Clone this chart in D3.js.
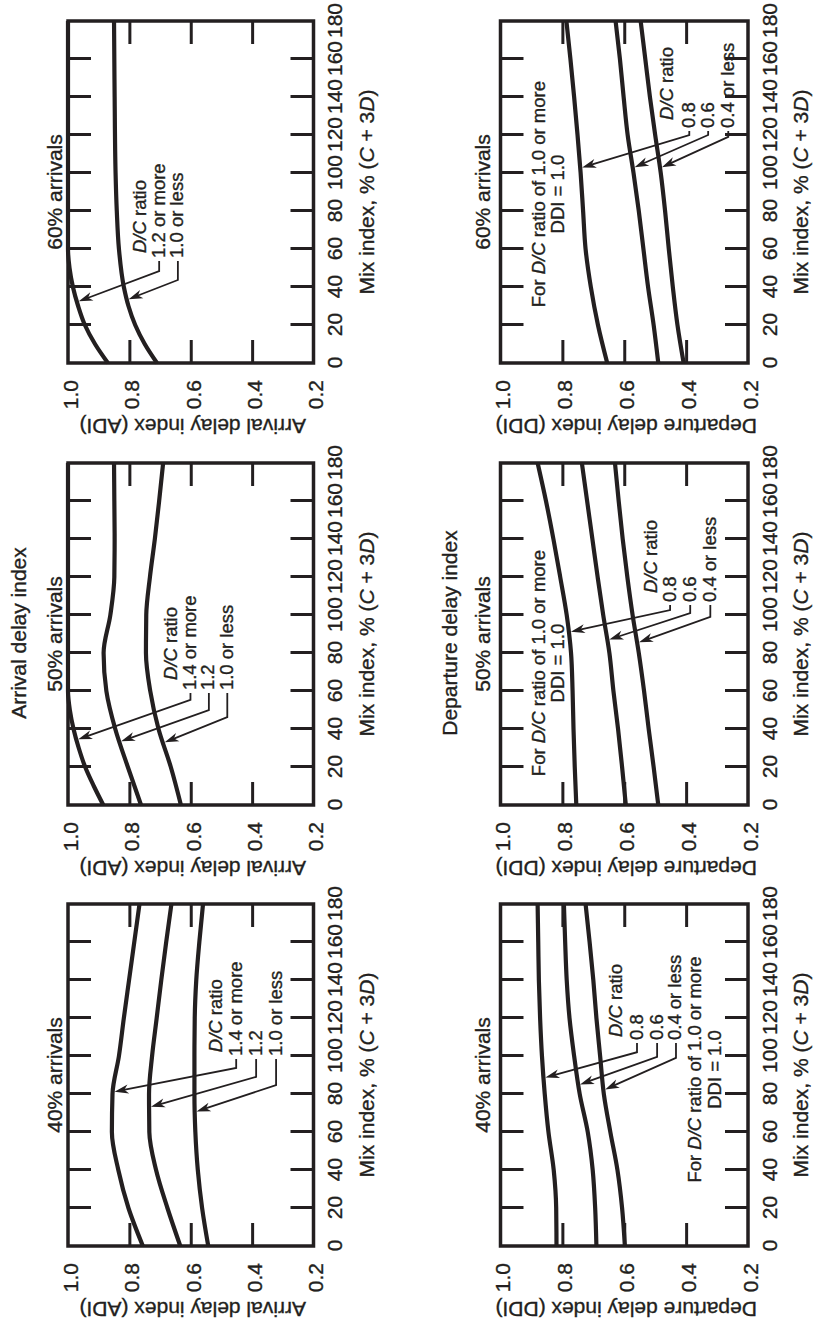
<!DOCTYPE html>
<html><head><meta charset="utf-8">
<script src="https://cdn.jsdelivr.net/npm/d3@7"></script>
<style>
body{margin:0;background:#fff}
svg{display:block}
text{font-family:"Liberation Sans",Arial,Helvetica,sans-serif;fill:#231f20;white-space:pre;stroke:#231f20;stroke-width:0.35px}
</style>
</head><body>
<svg id="chart" width="817" height="1321"></svg>
<script>
// ---------------- data ----------------
const mixTickLabels = [0,20,40,60,80,100,120,140,160,180];
const mixInnerTicks = [20,40,60,80,100,120,140,160];
const indexTickLabels = [1.0,0.8,0.6,0.4,0.2];
const indexInnerTicks = [0.8,0.6,0.4];

const mixGrid  = [0,20,40,60,80,100,120,140,160,180];
const mixSteep = [0,10,20,30,40,50,60,180];
const mixA60   = [0,10,20,30,40,60,80,100,140,180];

// Arrival delay index (ADI)
const adi40_14 = [0.756,0.803,0.836,0.857,0.855,0.834,0.818,0.801,0.784,0.767];
const adi40_12 = [0.634,0.676,0.713,0.735,0.736,0.726,0.711,0.696,0.680,0.663];
const adi40_10 = [0.543,0.563,0.577,0.585,0.588,0.588,0.587,0.582,0.572,0.560];
const adi50_14 = [0.885,0.916,0.944,0.965,0.982,0.994,1.0,1.0];
const adi50_12 = [0.762,0.805,0.846,0.875,0.884,0.862,0.849,0.848,0.849,0.850];
const adi50_10 = [0.632,0.665,0.705,0.732,0.746,0.745,0.733,0.717,0.703,0.690];
const adi60_12 = [0.870,0.912,0.945,0.967,0.984,0.995,1.0,1.0];
const adi60_10 = [0.710,0.750,0.781,0.803,0.818,0.834,0.841,0.845,0.848,0.850];

// Departure delay index (DDI)
const ddi40_08 = [0.819,0.820,0.828,0.845,0.857,0.866,0.872,0.876,0.878,0.880];
const ddi40_06 = [0.690,0.694,0.702,0.718,0.744,0.762,0.777,0.786,0.791,0.795];
const ddi40_04 = [0.598,0.607,0.622,0.645,0.666,0.678,0.690,0.700,0.712,0.725];
const ddi50_08 = [0.755,0.760,0.764,0.767,0.772,0.786,0.807,0.829,0.853,0.880];
const ddi50_06 = [0.595,0.607,0.620,0.635,0.648,0.668,0.686,0.703,0.720,0.737];
const ddi50_04 = [0.490,0.505,0.521,0.536,0.553,0.573,0.590,0.605,0.618,0.630];
const ddi60_08 = [0.655,0.685,0.708,0.725,0.733,0.741,0.751,0.762,0.774,0.787];
const ddi60_06 = [0.490,0.505,0.523,0.538,0.553,0.570,0.589,0.602,0.614,0.628];
const ddi60_04 = [0.408,0.428,0.443,0.456,0.468,0.482,0.500,0.517,0.532,0.547];

const rowTitles = ["Arrival delay index","Departure delay index"];
const yTitles = ["Arrival delay index (ADI)","Departure delay index (DDI)"];
const panelTitles = ["40% arrivals","50% arrivals","60% arrivals"];

// annotation labels: [label, baseline index value, corner mix, tip mix, curve #]
const annArr40 = {header:[102,0.499], start:100, items:[["1.4 or more",0.434,93.7,81,0],["1.2",0.369,89,73,1],["1.0 or less",0.304,84.7,70.5,2]]};
const annArr50 = {header:[65.8,0.644], start:60.5, items:[["1.4 or more",0.583,55.3,34.2,0],["1.2",0.523,50,33.2,1],["1.0 or less",0.463,46.3,32.6,2]]};
const annArr60 = {header:[57.9,0.746], start:55.3, items:[["1.2 or more",0.685,48.4,32.1,0],["1.0 or less",0.624,43.7,33.2,1]]};
const annDep40 = {header:[110,0.607], start:108.4, items:[["0.8",0.541,102,88.4,0],["0.6",0.476,99.5,84.7,1],["0.4 or less",0.415,99,82,2]], note:[92.9,0.353,0.288]};
const annDep50 = {header:[111.6,0.493], start:106.8, items:[["0.8",0.434,102.6,91,0],["0.6",0.369,101,86.8,1],["0.4 or less",0.304,99,85.3,2]], note:[74.7,0.857,0.795]};
const annDep60 = {header:[127.9,0.441], start:123.7, items:[["0.8",0.372,120,102.6,0],["0.6",0.311,120,102.6,1],["0.4 or less",0.246,119,102.6,2]], note:[88.9,0.857,0.795]};

// ---------------- layout ----------------
const INK = "#231f20";
const colsX = [75, 516, 958], colW = 342;
const rows = [{top:68, h:245.5, titleY:62, rowTitleY:25.5}, {top:500.5, h:247.5, titleY:490, rowTitleY:457}];

const panels = [
  {row:0,col:0,curves:[[mixGrid,adi40_14],[mixGrid,adi40_12],[mixGrid,adi40_10]],ann:annArr40},
  {row:0,col:1,curves:[[mixSteep,adi50_14],[mixGrid,adi50_12],[mixGrid,adi50_10]],ann:annArr50},
  {row:0,col:2,curves:[[mixSteep,adi60_12],[mixA60,adi60_10]],ann:annArr60},
  {row:1,col:0,curves:[[mixGrid,ddi40_08],[mixGrid,ddi40_06],[mixGrid,ddi40_04]],ann:annDep40},
  {row:1,col:1,curves:[[mixGrid,ddi50_08],[mixGrid,ddi50_06],[mixGrid,ddi50_04]],ann:annDep50},
  {row:1,col:2,curves:[[mixGrid,ddi60_08],[mixGrid,ddi60_06],[mixGrid,ddi60_04]],ann:annDep60}
];

const svg = d3.select("#chart");
svg.append("rect").attr("width",817).attr("height",1321).attr("fill","#fff");
const root = svg.append("g").attr("transform","translate(0,1321) rotate(-90)");

function rich(sel, parts){
  parts.forEach(([t,it]) => sel.append("tspan").text(t).attr("font-style", it ? "italic" : "normal"));
  return sel;
}
function styleAxis(s, fs){
  s.select(".domain").remove();
  s.attr("font-family",null).attr("font-size",fs||21);
  s.selectAll(".tick line").attr("stroke",INK).attr("stroke-width",3);
  s.selectAll(".tick text").attr("fill",INK);
}
function pointAtX(node, tx){
  const L = node.getTotalLength();
  let lo = 0, hi = L;
  for (let i=0;i<40;i++){
    const mid=(lo+hi)/2;
    if (node.getPointAtLength(mid).x < tx) lo = mid; else hi = mid;
  }
  return node.getPointAtLength((lo+hi)/2);
}

// row titles
rows.forEach((r,i) => {
  root.append("text").attr("x",688).attr("y",r.rowTitleY).attr("text-anchor","middle")
    .attr("font-size",21).text(rowTitles[i]);
});

panels.forEach(p => {
  const r = rows[p.row], px = colsX[p.col];
  const bottom = r.top + r.h;
  const x = d3.scaleLinear().domain([0,180]).range([px, px+colW]);
  const y = d3.scaleLinear().domain([0.2,1.0]).range([bottom, r.top]);
  const g = root.append("g");

  // inward ticks
  g.append("g").attr("transform",`translate(0,${bottom})`)
    .call(d3.axisBottom(x).tickValues(mixInnerTicks).tickSizeInner(-23).tickSizeOuter(0).tickFormat(""))
    .call(styleAxis);
  g.append("g").attr("transform",`translate(0,${r.top})`)
    .call(d3.axisTop(x).tickValues(mixInnerTicks).tickSizeInner(-23).tickSizeOuter(0).tickFormat(""))
    .call(styleAxis);
  g.append("g").attr("transform",`translate(${px},0)`)
    .call(d3.axisLeft(y).tickValues(indexInnerTicks).tickSizeInner(-23).tickSizeOuter(0).tickFormat(""))
    .call(styleAxis);
  g.append("g").attr("transform",`translate(${px+colW},0)`)
    .call(d3.axisRight(y).tickValues(indexInnerTicks).tickSizeInner(-23).tickSizeOuter(0).tickFormat(""))
    .call(styleAxis);

  // tick labels
  g.append("g").attr("transform",`translate(0,${bottom})`)
    .call(d3.axisBottom(x).tickValues(mixTickLabels).tickSize(0).tickPadding(13.8).tickFormat(d3.format("d")))
    .call(styleAxis);
  const yl = g.append("g").attr("transform",`translate(${px},0)`)
    .call(d3.axisLeft(y).tickValues(indexTickLabels).tickSize(0).tickPadding(17).tickFormat(d3.format(".1f")))
    .call(styleAxis);
  yl.selectAll(".tick text").attr("dy","0.45em");

  // frame
  g.append("rect").attr("x",px).attr("y",r.top).attr("width",colW).attr("height",r.h)
    .attr("fill","none").attr("stroke",INK).attr("stroke-width",3.5);

  // titles
  g.append("text").attr("x",px+colW/2).attr("y",r.titleY).attr("text-anchor","middle")
    .attr("font-size",21).text(panelTitles[p.col]);
  rich(g.append("text").attr("x",px+colW/2).attr("y",bottom+60).attr("text-anchor","middle").attr("font-size",21),
    [["Mix index, % (",false],["C",true],[" + 3",false],["D",true],[")",false]]);
  g.append("text").attr("transform",`translate(${px-56},${r.top+r.h/2+2}) rotate(-90)`)
    .attr("text-anchor","middle").attr("font-size",21).text(yTitles[p.row]);

  // curves
  const line = d3.line().x(d=>x(d[0])).y(d=>y(d[1])).curve(d3.curveMonotoneX);
  const paths = p.curves.map(([mx,vals]) =>
    g.append("path").datum(d3.zip(mx,vals)).attr("d",line)
      .attr("fill","none").attr("stroke",INK).attr("stroke-width",4.2).attr("stroke-linejoin","round").node());

  // annotations
  const a = p.ann, FS = 18.5;
  rich(g.append("text").attr("x",x(a.header[0])).attr("y",y(a.header[1])).attr("font-size",FS),
    [["D/C",true],[" ratio",false]]);
  a.items.forEach(([label,v,cm,tm,ci]) => {
    const bx = x(a.start), by = y(v);
    g.append("text").attr("x",bx).attr("y",by).attr("font-size",FS).text(label);
    const my = by - 5.5;
    const tip = pointAtX(paths[ci], x(tm));
    const cx = x(cm);
    const dx = tip.x - cx, dy = tip.y - my, len = Math.hypot(dx,dy);
    const ux = dx/len, uy = dy/len, nx = -uy, ny = ux;
    const tx = tip.x - ux*2, ty = tip.y - uy*2;
    g.append("path").attr("d", d3.line()([[bx-3,my],[cx,my],[tx-ux*8,ty-uy*8]]))
      .attr("fill","none").attr("stroke",INK).attr("stroke-width",1.8);
    const AL = 14, AW = 4.5, AN = 4;
    const head = [[tx,ty],[tx-ux*AL+nx*AW,ty-uy*AL+ny*AW],[tx-ux*(AL-AN),ty-uy*(AL-AN)],[tx-ux*AL-nx*AW,ty-uy*AL-ny*AW]];
    g.append("path").attr("d", d3.line()(head)+"Z").attr("fill",INK);
  });
  if (a.note){
    const nx0 = x(a.note[0]);
    rich(g.append("text").attr("x",nx0).attr("y",y(a.note[1])).attr("text-anchor","middle").attr("font-size",FS),
      [["For ",false],["D/C",true],[" ratio of 1.0 or more",false]]);
    g.append("text").attr("x",nx0).attr("y",y(a.note[2])).attr("text-anchor","middle").attr("font-size",FS).text("DDI = 1.0");
  }
});
</script>
</body></html>
